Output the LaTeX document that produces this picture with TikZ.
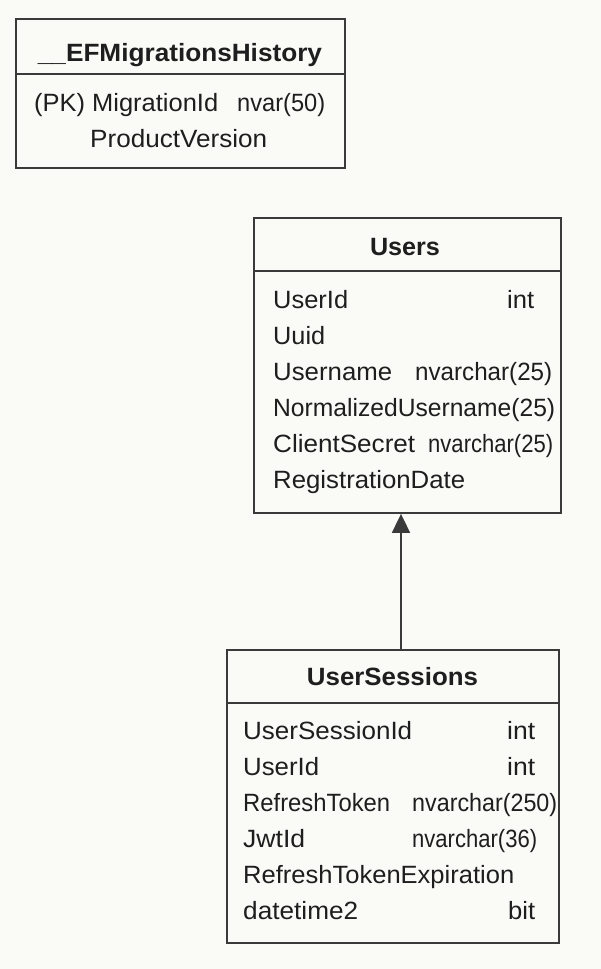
\documentclass[tikz,border=0pt]{standalone}
\usepackage{fontspec}
\setmainfont{Liberation Sans}
\usetikzlibrary{arrows.meta}
\definecolor{paper}{HTML}{FAFAF7}
\definecolor{ink}{HTML}{1E1E1E}
\definecolor{rulegray}{HTML}{3A3A3A}
% set a text to a given width, keeping its height
\newcommand\fitw[2]{\resizebox{#1pt}{\height}{#2}}
\tikzset{
  tablebox/.style={draw=rulegray, line width=1.8pt, inner sep=0pt},
  divider/.style={draw=rulegray, line width=1.6pt},
  field/.style={anchor=base west, inner sep=0pt, text=ink,
                font=\fontsize{25}{30}\selectfont},
  heading/.style={anchor=base, inner sep=0pt, text=ink,
                  font=\fontsize{25}{30}\selectfont\bfseries},
  fk/.style={draw=rulegray, line width=1.8pt,
             -{Triangle[length=19pt,width=18pt]}},
}
\begin{document}
\begin{tikzpicture}[x=1pt,y=-1pt]
\fill[paper] (0,0) rectangle (601,969);
\useasboundingbox (0,0) rectangle (601,969);

% __EFMigrationsHistory
\node[tablebox, minimum width=329pt, minimum height=149pt] (ef) at (180.5,93.5) {};
\draw[divider] (ef.west |- 0,74) -- (ef.east |- 0,74);
\node[heading] (ef-title) at (180,61) {\fitw{284}{\_\kern-1pt\_EFMigrationsHistory}};
\node[field] (ef-f1) at (34,111) {\fitw{184}{(PK) MigrationId}};
\node[field] (ef-t1) at (237,111) {\fitw{88}{nvar(50)}};
\node[field] (ef-f2) at (90,147) {\fitw{177}{ProductVersion}};

% Users
\node[tablebox, minimum width=307pt, minimum height=295pt] (users) at (407.5,365.5) {};
\draw[divider] (users.west |- 0,271) -- (users.east |- 0,271);
\node[heading] (users-title) at (405,255) {\fitw{70}{Users}};
\node[field] (users-f1) at (273,308) {\fitw{75}{UserId}};
\node[field] (users-t1) at (507,308) {\fitw{27}{int}};
\node[field] (users-f2) at (273,344) {\fitw{52}{Uuid}};
\node[field] (users-f3) at (273,380) {\fitw{119}{Username}};
\node[field] (users-t3) at (415,380) {\fitw{137}{nvarchar(25)}};
\node[field] (users-f4) at (273,416) {\fitw{282}{NormalizedUsername(25)}};
\node[field] (users-f5) at (273,452) {\fitw{142}{ClientSecret}};
\node[field] (users-t5) at (428,452) {\fitw{125}{nvarchar(25)}};
\node[field] (users-f6) at (273,488) {\fitw{192}{RegistrationDate}};

% UserSessions
\node[tablebox, minimum width=332pt, minimum height=293pt] (sessions) at (393,796.5) {};
\draw[divider] (sessions.west |- 0,703) -- (sessions.east |- 0,703);
\node[heading] (sessions-title) at (392.5,685) {\fitw{171}{UserSessions}};
\node[field] (sessions-f1) at (243,739) {\fitw{169}{UserSessionId}};
\node[field] (sessions-t1) at (507,739) {\fitw{28}{int}};
\node[field] (sessions-f2) at (243,775) {\fitw{76}{UserId}};
\node[field] (sessions-t2) at (507,775) {\fitw{28}{int}};
\node[field] (sessions-f3) at (243,811) {\fitw{147}{RefreshToken}};
\node[field] (sessions-t3) at (412,811) {\fitw{145}{nvarchar(250)}};
\node[field] (sessions-f4) at (243,847) {\fitw{62}{JwtId}};
\node[field] (sessions-t4) at (412,847) {\fitw{125}{nvarchar(36)}};
\node[field] (sessions-f5) at (243,883) {\fitw{271}{RefreshTokenExpiration}};
\node[field] (sessions-f6) at (243,919) {\fitw{115}{datetime2}};
\node[field] (sessions-t6) at (508,919) {\fitw{27}{bit}};

% UserSessions -> Users
\draw[fk] ([xshift=-6.5pt]users.south |- sessions.north) -- ([xshift=-6.5pt]users.south);
\end{tikzpicture}
\end{document}
